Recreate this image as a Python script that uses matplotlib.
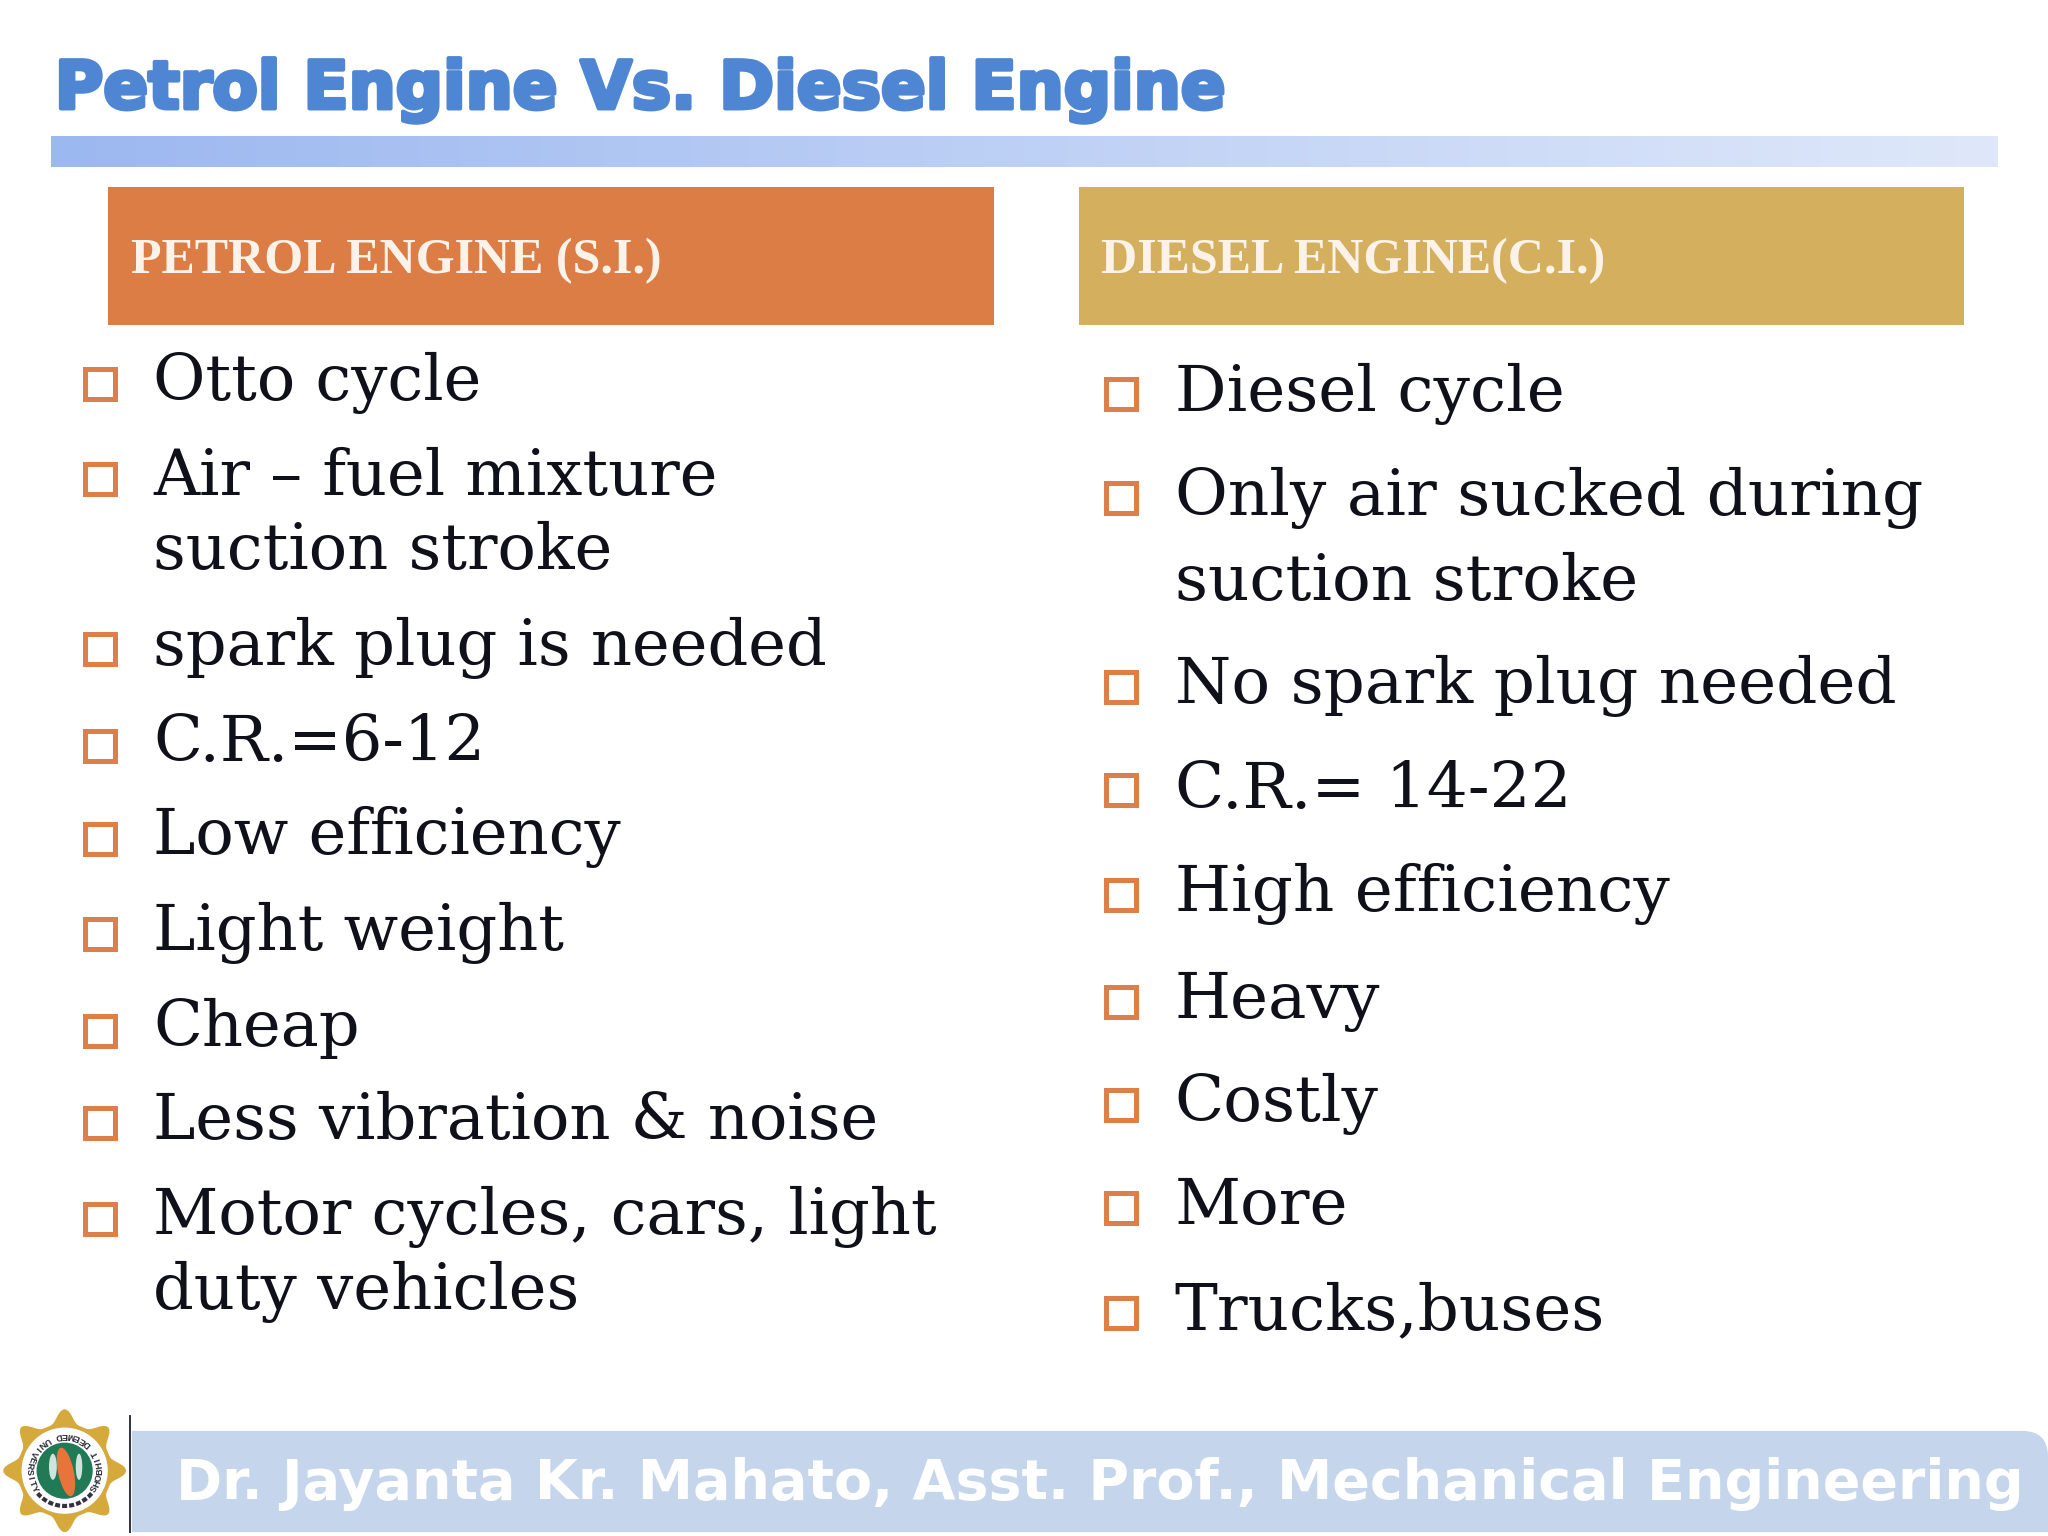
import numpy as np
import matplotlib
matplotlib.use("Agg")
import matplotlib.pyplot as plt
from matplotlib.patches import Rectangle, Polygon, Circle, Ellipse, PathPatch
from matplotlib.path import Path
import matplotlib.patheffects as pe

title = "Petrol Engine Vs. Diesel Engine"
left_header = "PETROL ENGINE (S.I.)"
right_header = "DIESEL ENGINE(C.I.)"
left_items = [["Otto cycle"], ["Air – fuel mixture", "suction stroke"], ["spark plug is needed"],
              ["C.R.=6-12"], ["Low efficiency"], ["Light weight"], ["Cheap"],
              ["Less vibration & noise"], ["Motor cycles, cars, light", "duty vehicles"]]
right_items = [["Diesel cycle"], ["Only air sucked during", "suction stroke"], ["No spark plug needed"],
               ["C.R.= 14-22"], ["High efficiency"], ["Heavy"], ["Costly"], ["More"], ["Trucks,buses"]]
footer = "Dr. Jayanta Kr. Mahato, Asst. Prof., Mechanical Engineering"
seal_text = "SHOBHIT DEEMED UNIVERSITY"

# layout (in 1568 x 1176 slide units)
left_base = [[306], [379, 436], [509], [583], [654], [727], [801], [872], [945, 1002]]
left_bullet = [294, 367, 497, 571, 642, 715, 789, 860, 933]
right_base = [[314.5], [394.5, 459.5], [538.5], [618.5], [697.5], [779.5], [858.5], [937.5], [1017.5]]
right_bullet = [302, 381, 526, 605, 685, 767, 846, 925, 1005]

ORANGE = "#DB7D45"; GOLD = "#D4B05E"; BLUE = "#4F86D3"; FOOT = "#C5D6EC"; BUL = "#DD7F49"

fig = plt.figure(figsize=(20.48, 15.36), dpi=100, facecolor="white")
ax = fig.add_axes([0, 0, 1, 1])
ax.set_xlim(0, 1568); ax.set_ylim(1176, 0); ax.axis("off")

# title
ax.text(42, 83, title, fontsize=47.6, family="DejaVu Sans", weight="bold", color=BLUE,
        va="baseline", path_effects=[pe.withStroke(linewidth=3, foreground=BLUE)])

# gradient rule
grad = np.linspace(0, 1, 256)[None, :, None]
c0 = np.array([0x9C, 0xB8, 0xF0]) / 255; c1 = np.array([0xDF, 0xE8, 0xFA]) / 255
ax.imshow(c0 + (c1 - c0) * grad, extent=(39, 1529, 128, 105), aspect="auto", interpolation="bilinear", zorder=1)
ax.set_xlim(0, 1568); ax.set_ylim(1176, 0)

# header boxes
for x, col, lab in [(83, ORANGE, left_header), (826, GOLD, right_header)]:
    ax.add_patch(Rectangle((x, 143), 678, 106, fc=col, ec="none"))
    ax.text(x + 17, 209, lab, fontsize=36, family="Liberation Serif", weight="bold", color="#FBF3EA", va="baseline")

# bullets and lists
def column(items, bases, bullets, bx, tx, size):
    for lines, ys, by in zip(items, bases, bullets):
        ax.add_patch(Rectangle((bx, by - 11.5), 23, 23, fc="white", ec=BUL, lw=3.6))
        for line, y in zip(lines, ys):
            ax.text(tx, y, line, fontsize=size, family="DejaVu Serif", color="#10101A", va="baseline")

column(left_items, left_base, left_bullet, 65, 117.5, 46)
column(right_items, right_base, right_bullet, 847, 899.5, 46.4)

# footer
ax.plot([99.5, 99.5], [1084, 1173], color="#333340", lw=1.4)
verts = [(101, 1173), (101, 1095.5), (1548, 1095.5), (1568, 1095.5), (1568, 1115), (1568, 1173), (101, 1173)]
codes = [Path.MOVETO, Path.LINETO, Path.LINETO, Path.CURVE3, Path.CURVE3, Path.LINETO, Path.CLOSEPOLY]
ax.add_patch(PathPatch(Path(verts, codes), fc=FOOT, ec="none"))
ax.text(135, 1148, footer, fontsize=40, family="DejaVu Sans", weight="bold", color="white", va="baseline")

# seal: eight-pointed star with concave sides
cx, cy = 49.5, 1126
ang = np.linspace(0, 2 * np.pi, 721)
rad = 36 + 11 * np.abs(np.cos(4 * ang)) ** 4
ax.add_patch(Polygon(np.c_[cx + rad * np.cos(ang), cy + rad * np.sin(ang)], fc="#D5A93C", ec="none", zorder=3))
ax.add_patch(Circle((cx, cy), 33, fc="white", ec="none", zorder=4))
ax.add_patch(Circle((cx, cy), 21.5, fc="#1F7A55", ec="none", zorder=5))
ax.add_patch(Ellipse((cx + 1, cy + 1), 12, 38, angle=-12, fc="#E8743B", ec="none", zorder=6))
ax.add_patch(Ellipse((cx - 9, cy - 3), 6, 20, fc="white", ec="none", zorder=6, alpha=.8))
ax.add_patch(Ellipse((cx + 11, cy - 3), 5, 20, fc="white", ec="none", zorder=6, alpha=.8))
n = len(seal_text)
for i, ch in enumerate(seal_text):
    th = -32 + i * 244 / (n - 1)
    r = np.deg2rad(th)
    ax.text(cx + 27 * np.cos(r), cy - 27 * np.sin(r), ch, fontsize=6.5, weight="bold",
            family="Liberation Sans", color="#2A2A35", rotation=th + 90,
            rotation_mode="anchor", ha="center", va="center", zorder=7)
t = np.deg2rad(np.linspace(40, 140, 30))
ax.plot(cx + 27 * np.cos(t), cy + 27 * np.sin(t), color="#333340", lw=3, ls=(0, (1.2, .5)), zorder=7)

fig.savefig("out.png", dpi=100, facecolor="white")
